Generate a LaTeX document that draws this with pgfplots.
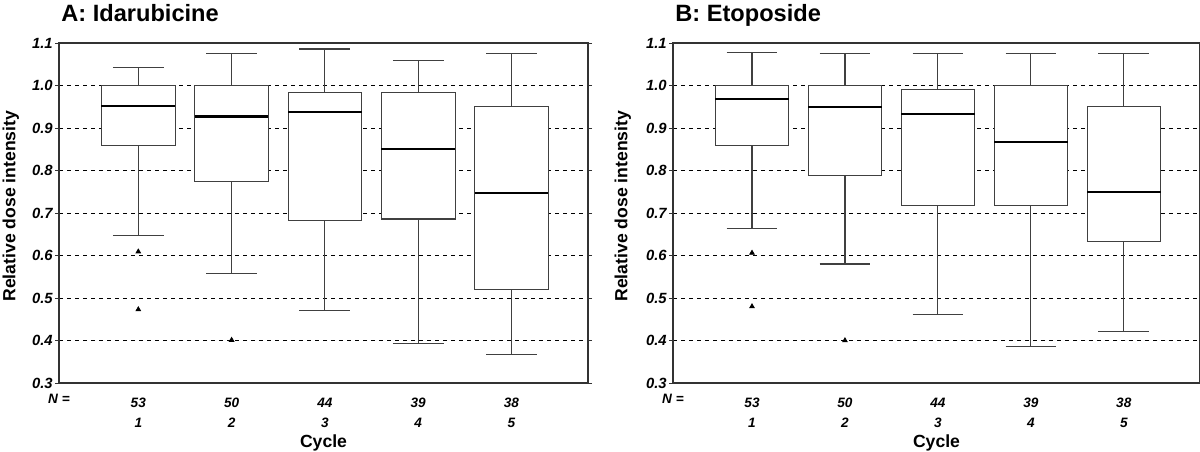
\documentclass[border=0pt]{standalone}
\usepackage{fontspec}
\setmainfont{Liberation Sans}
\usepackage{pgfplots}
\pgfplotsset{compat=1.18}
\usepgfplotslibrary{statistics}
\pgfplotsset{
 myaxis/.style={
  scale only axis, height=170pt, clip=false,
  xmin=0.15, xmax=5.82, ymin=0.3, ymax=1.1,
  ytick={0.3,0.4,0.5,0.6,0.7,0.8,0.9,1.0,1.1},
  /pgf/number format/.cd, fixed, fixed zerofill, precision=1, assume math mode=true,
  /pgfplots/.cd,
  ymajorgrids, grid style={black, dash pattern=on 2pt off 2pt, line width=0.5pt},
  xtick={1,2,3,4,5},
  xticklabels={{53\\1},{50\\2},{44\\3},{39\\4},{38\\5}},
  xticklabel style={align=center, anchor=north, inner sep=0pt, yshift=-5.5pt,
     font=\fontsize{6.8pt}{10pt}\selectfont\bfseries\itshape},
  yticklabel style={font=\fontsize{7.4pt}{8pt}\selectfont\bfseries\itshape, inner sep=1pt},
  major x tick style={draw=none},
  tick align=outside, major tick length=2pt,
  tick style={black!80, line width=0.5pt},
  axis line style={black!80, line width=0.7pt},
  xlabel={Cycle}, ylabel={Relative dose intensity},
  label style={font=\fontsize{8.8pt}{10pt}\selectfont\bfseries},
  xlabel style={at={(axis description cs:0.5,0)}, anchor=base, yshift=-32pt},
  title style={at={(axis description cs:0,1)}, anchor=base west, inner sep=0pt, yshift=4.7pt, xshift=1pt,
     font=\fontsize{11.8pt}{13pt}\selectfont\bfseries},
  boxplot/draw direction=y,
  boxplot/box extend=0.79,
  boxplot/whisker extend=0.545,
  boxplot/every box/.style={draw=black!75, fill=white, line width=0.55pt},
  boxplot/every whisker/.style={draw=black!75, line width=0.55pt},
  boxplot/every median/.style={draw=black, line width=1.1pt},
 },
 outl/.style={black, mark=triangle*, mark size=1.3pt, mark options={fill=black}},
}
\begin{document}
\begin{tikzpicture}
\useasboundingbox (0,0) rectangle (600pt,225.5pt);
% Panel A
\begin{axis}[myaxis, width=264.5pt, at={(29.5pt,34pt)}, anchor=south west,
  title={A: Idarubicine},
  ylabel style={at={(axis description cs:-0.091,0.52)}, rotate=0, anchor=center}]
\addplot[outl, boxplot prepared={lower whisker=0.648, lower quartile=0.858, median=0.952, upper quartile=1.0, upper whisker=1.042, draw position=1}]
  coordinates {(1,0.609) (1,0.473)};
\addplot[outl, boxplot prepared={lower whisker=0.558, lower quartile=0.775, median=0.927, upper quartile=1.0, upper whisker=1.075, draw position=2}]
  coordinates {(2,0.401)};
\addplot[outl, boxplot prepared={lower whisker=0.471, lower quartile=0.683, median=0.937, upper quartile=0.984, upper whisker=1.086, draw position=3}]
  coordinates {};
\addplot[outl, boxplot prepared={lower whisker=0.394, lower quartile=0.686, median=0.851, upper quartile=0.984, upper whisker=1.058, draw position=4}]
  coordinates {};
\addplot[outl, boxplot prepared={lower whisker=0.367, lower quartile=0.519, median=0.747, upper quartile=0.950, upper whisker=1.076, draw position=5}]
  coordinates {};
\node[anchor=north, inner sep=0pt, yshift=-5.5pt, font=\fontsize{6.8pt}{10pt}\selectfont\bfseries\itshape]
  at (axis description cs:0.0,0) {N =};
\end{axis}
% Panel B
\begin{axis}[myaxis, width=263.5pt, at={(336.5pt,34pt)}, anchor=south west,
  title={B: Etoposide},
  ylabel style={at={(axis description cs:-0.095,0.52)}, rotate=0, anchor=center}]
\addplot[outl, boxplot prepared={lower whisker=0.664, lower quartile=0.858, median=0.969, upper quartile=1.0, upper whisker=1.078, draw position=1}]
  coordinates {(1,0.606) (1,0.480)};
\addplot[outl, boxplot prepared={lower whisker=0.580, lower quartile=0.788, median=0.950, upper quartile=1.0, upper whisker=1.076, draw position=2}]
  coordinates {(2,0.400)};
\addplot[outl, boxplot prepared={lower whisker=0.462, lower quartile=0.717, median=0.933, upper quartile=0.991, upper whisker=1.076, draw position=3}]
  coordinates {};
\addplot[outl, boxplot prepared={lower whisker=0.385, lower quartile=0.717, median=0.868, upper quartile=1.0, upper whisker=1.076, draw position=4}]
  coordinates {};
\addplot[outl, boxplot prepared={lower whisker=0.421, lower quartile=0.634, median=0.749, upper quartile=0.950, upper whisker=1.076, draw position=5}]
  coordinates {};
\node[anchor=north, inner sep=0pt, yshift=-5.5pt, font=\fontsize{6.8pt}{10pt}\selectfont\bfseries\itshape]
  at (axis description cs:0.0,0) {N =};
\end{axis}
\end{tikzpicture}
\end{document}
